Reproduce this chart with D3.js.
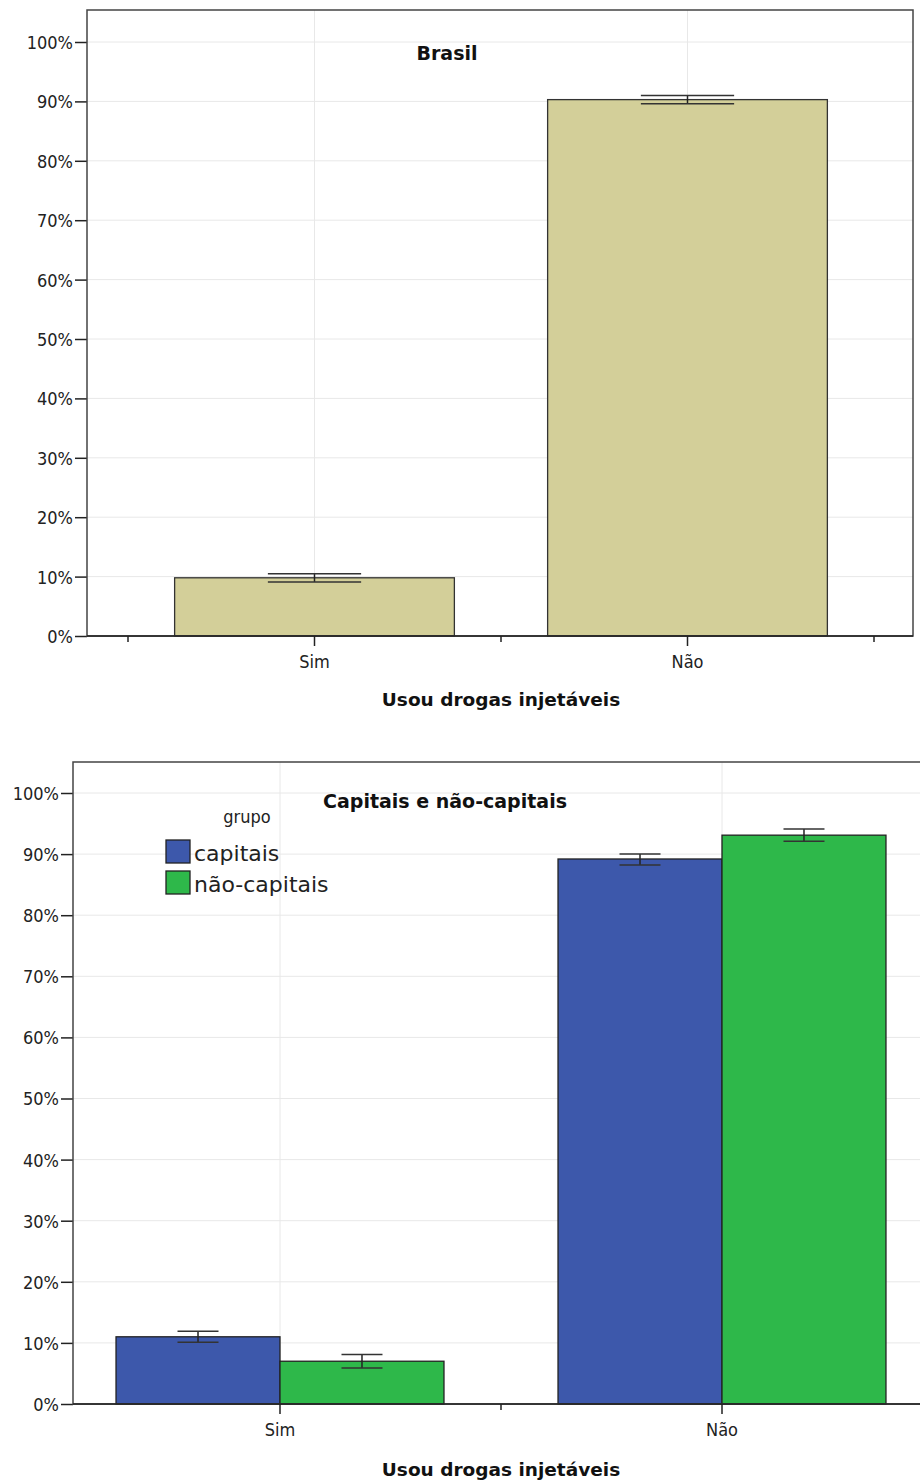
<!DOCTYPE html>
<html>
<head>
<meta charset="utf-8">
<script src="https://cdn.jsdelivr.net/npm/d3@7"></script>
<style>
    body { margin: 0; background: white; }
    svg { display: block; }
    .tick text { font-family: 'DejaVu Sans Condensed', 'DejaVu Sans', sans-serif; font-stretch: condensed; font-size: 18px; fill: #222; }
    .title { font-family: 'DejaVu Sans', sans-serif; font-weight: bold; font-size: 19px; fill: #111; }
    .axis-title { font-family: 'DejaVu Sans', sans-serif; font-weight: bold; font-size: 18.5px; fill: #111; }
    .grid line { stroke: #e8e8e8; stroke-width: 1; }
</style>
</head>
<body>
<div id="chart"></div>
<script>
var categories = ['Sim', 'Não']
var yTicks = [0, 0.1, 0.2, 0.3, 0.4, 0.5, 0.6, 0.7, 0.8, 0.9, 1.0]

// Brasil
var brasilValues = [0.098, 0.903]
var brasilLow = [0.091, 0.896]
var brasilHigh = [0.105, 0.910]

// capitais / não-capitais
var groups = ['capitais', 'não-capitais']
var groupColors = ['#3d58ab', '#2eb84a']
var capitaisValues = [0.110, 0.892]
var capitaisLow = [0.101, 0.882]
var capitaisHigh = [0.119, 0.900]
var naoCapitaisValues = [0.070, 0.931]
var naoCapitaisLow = [0.059, 0.921]
var naoCapitaisHigh = [0.081, 0.941]

var svg = d3.select('#chart').append('svg')
    .attr('width', 920)
    .attr('height', 1484)

svg.append('rect').attr('width', '100%').attr('height', '100%').attr('fill', 'white')

function drawGrid(g, box, y) {
    g.append('g').attr('class', 'grid')
        .selectAll('line').data(yTicks.slice(1)).enter().append('line')
        .attr('x1', box.left).attr('x2', box.right)
        .attr('y1', function (d) { return y(d) }).attr('y2', function (d) { return y(d) })
}

function drawAxes(g, box, x, y, tickEdges) {
    var yAxis = g.append('g')
        .attr('transform', 'translate(' + box.left + ',0)')
        .call(d3.axisLeft(y).tickValues(yTicks).tickSize(12).tickPadding(2).tickFormat(d3.format('.0%')))
    yAxis.select('.domain').remove()
    yAxis.selectAll('.tick line').attr('stroke', '#222').attr('stroke-width', 1.5)
    yAxis.selectAll('.tick text').attr('dy', '0.36em')

    // outer frame
    g.append('rect')
        .attr('x', box.left).attr('y', box.top)
        .attr('width', box.right - box.left).attr('height', box.bottom - box.top)
        .attr('fill', 'none').attr('stroke', '#444').attr('stroke-width', 1.5)

    var xAxis = g.append('g')
        .attr('transform', 'translate(0,' + box.bottom + ')')
        .call(d3.axisBottom(x).tickSize(10).tickPadding(9))
    xAxis.select('.domain').remove()
    xAxis.selectAll('.tick line').attr('stroke', '#222').attr('stroke-width', 1.5)

    // ticks between categories
    g.selectAll('.edge-tick').data(tickEdges).enter().append('line')
        .attr('x1', function (d) { return d }).attr('x2', function (d) { return d })
        .attr('y1', box.bottom).attr('y2', box.bottom + 6)
        .attr('stroke', '#222').attr('stroke-width', 1.5)

    g.append('line')
        .attr('x1', box.left).attr('x2', box.right)
        .attr('y1', box.bottom).attr('y2', box.bottom)
        .attr('stroke', '#222').attr('stroke-width', 1.5)
}

function errorBar(g, cx, lo, hi, capW, y) {
    g.append('line').attr('x1', cx).attr('x2', cx).attr('y1', y(hi)).attr('y2', y(lo))
        .attr('stroke', '#222').attr('stroke-width', 1.5)
    ;[lo, hi].forEach(function (v) {
        g.append('line').attr('x1', cx - capW / 2).attr('x2', cx + capW / 2)
            .attr('y1', y(v)).attr('y2', y(v))
            .attr('stroke', '#333').attr('stroke-width', 1.5)
    })
}

// ---- top chart: Brasil
var topBox = { left: 87, right: 913, top: 10, bottom: 636 }
var g1 = svg.append('g')
var y1 = d3.scaleLinear().domain([0, 1]).range([636, 42])
var x1 = d3.scaleBand().domain(categories).range([128, 874])
var bw1 = x1.bandwidth() * 0.75

drawGrid(g1, topBox, y1)
g1.append('g').attr('class', 'grid').selectAll('line').data(categories).enter().append('line')
    .attr('x1', function (d) { return x1(d) + x1.bandwidth() / 2 }).attr('x2', function (d) { return x1(d) + x1.bandwidth() / 2 })
    .attr('y1', topBox.top).attr('y2', topBox.bottom)

g1.selectAll('.bar').data(categories).enter().append('rect')
    .attr('x', function (d) { return x1(d) + (x1.bandwidth() - bw1) / 2 })
    .attr('y', function (d, i) { return y1(brasilValues[i]) })
    .attr('width', bw1)
    .attr('height', function (d, i) { return y1(0) - y1(brasilValues[i]) })
    .attr('fill', '#d3cf99').attr('stroke', '#333').attr('stroke-width', 1.3)

categories.forEach(function (c, i) {
    errorBar(g1, x1(c) + x1.bandwidth() / 2, brasilLow[i], brasilHigh[i], bw1 / 3, y1)
})

drawAxes(g1, topBox, x1, y1, [128, 501, 874])

g1.append('text').attr('class', 'title').attr('x', 447).attr('y', 60)
    .attr('text-anchor', 'middle').text('Brasil')
g1.append('text').attr('class', 'axis-title').attr('x', 501).attr('y', 706)
    .attr('text-anchor', 'middle').text('Usou drogas injetáveis')

// ---- bottom chart: capitais e não-capitais
var botBox = { left: 73, right: 930, top: 762, bottom: 1404 }
var g2 = svg.append('g')
var y2 = d3.scaleLinear().domain([0, 1]).range([1404, 793])
var x2 = d3.scaleBand().domain(categories).range([59, 943])
var gw = x2.bandwidth() * 0.742
var xg = d3.scaleBand().domain(groups).range([0, gw])
var series = [
    { v: capitaisValues, lo: capitaisLow, hi: capitaisHigh },
    { v: naoCapitaisValues, lo: naoCapitaisLow, hi: naoCapitaisHigh }
]

drawGrid(g2, botBox, y2)
g2.append('g').attr('class', 'grid').selectAll('line').data(categories).enter().append('line')
    .attr('x1', function (d) { return x2(d) + x2.bandwidth() / 2 }).attr('x2', function (d) { return x2(d) + x2.bandwidth() / 2 })
    .attr('y1', botBox.top).attr('y2', botBox.bottom)

categories.forEach(function (c, i) {
    var x0 = x2(c) + (x2.bandwidth() - gw) / 2
    groups.forEach(function (grp, j) {
        g2.append('rect')
            .attr('x', x0 + xg(grp))
            .attr('y', y2(series[j].v[i]))
            .attr('width', xg.bandwidth())
            .attr('height', y2(0) - y2(series[j].v[i]))
            .attr('fill', groupColors[j]).attr('stroke', '#222').attr('stroke-width', 1.3)
    })
    groups.forEach(function (grp, j) {
        errorBar(g2, x0 + xg(grp) + xg.bandwidth() / 2, series[j].lo[i], series[j].hi[i], xg.bandwidth() / 4, y2)
    })
})

drawAxes(g2, botBox, x2, y2, [501])

g2.append('text').attr('class', 'title').attr('x', 445).attr('y', 808)
    .attr('text-anchor', 'middle').text('Capitais e não-capitais')
g2.append('text').attr('class', 'axis-title').attr('x', 501).attr('y', 1476)
    .attr('text-anchor', 'middle').text('Usou drogas injetáveis')

// legend
var legend = g2.append('g').attr('transform', 'translate(166, 0)')
legend.append('text').attr('x', 81).attr('y', 823).attr('text-anchor', 'middle')
    .style('font-family', "'DejaVu Sans Condensed', 'DejaVu Sans', sans-serif").style('font-stretch', 'condensed')
    .style('font-size', '18px').attr('fill', '#222').text('grupo')
groups.forEach(function (grp, j) {
    legend.append('rect').attr('x', 0).attr('y', 840 + j * 31).attr('width', 24).attr('height', 23)
        .attr('fill', groupColors[j]).attr('stroke', '#222').attr('stroke-width', 1.3)
    legend.append('text').attr('x', 28).attr('y', 861 + j * 31)
        .style('font-family', "'DejaVu Sans', sans-serif").style('font-size', '22px')
        .attr('fill', '#222').text(grp)
})
</script>
</body>
</html>
